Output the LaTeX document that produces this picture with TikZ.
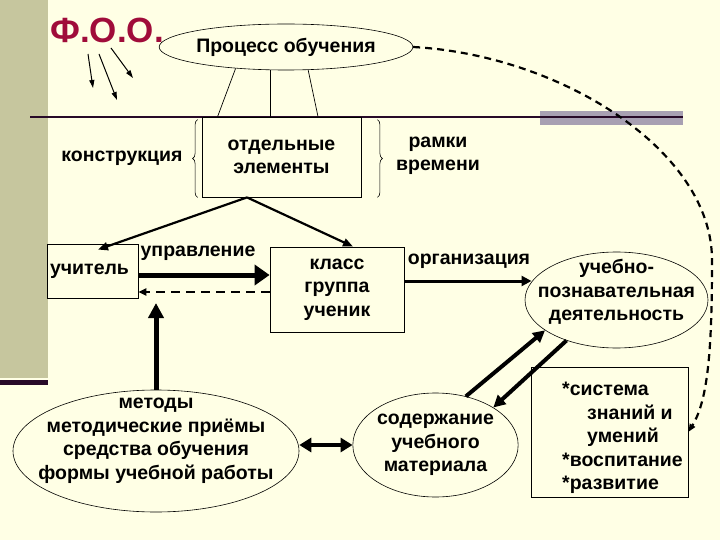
\documentclass[tikz,border=0pt]{standalone}
\usepackage{fontspec}
\setmainfont{Liberation Sans}
\usetikzlibrary{arrows.meta,shapes.geometric,calc,decorations.pathreplacing}
\definecolor{bgcream}{RGB}{255,255,229}
\definecolor{olivestrip}{RGB}{198,198,158}
\definecolor{darkbar}{RGB}{40,10,40}
\definecolor{graybar}{RGB}{168,160,178}
\definecolor{foored}{RGB}{160,12,58}
\begin{document}
\begin{tikzpicture}[x=1pt,y=-1pt,
  txt/.style={font=\fontsize{19.5}{23.5}\selectfont\bfseries, align=center, inner sep=0pt},
  box/.style={draw, line width=0.8pt, txt},
  ell/.style={draw, ellipse, line width=0.6pt, txt},
  thinline/.style={line width=0.7pt},
  smallarrow/.style={line width=1pt, -{Triangle[length=8pt,width=5pt]}},
  midarrow/.style={line width=2.2pt, -{Triangle[length=10pt,width=8pt]}},
  bigarrow/.style={line width=5pt, -{Triangle[length=15pt,width=20pt]}},
  orgarrow/.style={line width=3pt, -{Triangle[length=10pt,width=10pt]}},
  diagarrow/.style={line width=4pt, -{Triangle[length=12pt,width=12pt]}},
  dblarrow/.style={line width=4pt, {Triangle[length=12pt,width=14pt]}-{Triangle[length=12pt,width=14pt]}},
  dasharrow/.style={line width=2.5pt, dash pattern=on 9pt off 6pt, -{Triangle[length=8pt,width=7pt]}},
  curvearrow/.style={line width=2.2pt, dash pattern=on 7pt off 5pt, -{Triangle[length=8pt,width=6pt]}},
  bracestyle/.style={line width=0.6pt, decorate, decoration={brace, amplitude=5pt}}
]
% background
\fill[bgcream] (0,0) rectangle (720,540);
\useasboundingbox (0,0) rectangle (720,540);
\fill[olivestrip] (0,0) rectangle (48,378);
\fill[darkbar] (0,380) rectangle (48,385);
\fill[graybar] (540,111) rectangle (683,125);
\draw[line width=1.8pt, darkbar] (30,117) -- (683,117);

% title
\node[font=\fontsize{35}{40}\selectfont\bfseries, text=foored, inner sep=0pt, anchor=base] (foo) at (107,43) {Ф.О.О.};
\coordinate (a1) at (93,88);
\coordinate (a2) at (117,100);
\coordinate (a3) at (133,78);
\draw[smallarrow] ($(foo.base)+(-19,11)$) -- (a1);
\draw[smallarrow] ($(foo.base)+(-8,11)$) -- (a2);
\draw[smallarrow] ($(foo.base)+(4,5)$) -- (a3);

% nodes
\node[ell, minimum width=228pt, minimum height=46pt] (proc) at (286,47) {Процесс обучения};
\node[box, minimum width=159pt, minimum height=80pt] (el) at (281.5,157) {отдельные\\элементы};
\node[txt] (constr) at (122,158) {конструкция};
\node[txt] (frame) at (438,156) {рамки\\времени};
\node[box, minimum width=91pt, minimum height=54pt] (teacher) at (92.5,271) {\hspace*{-6pt}учитель};
\node[box, minimum width=134pt, minimum height=85pt] (class) at (337,289.5) {класс\\группа\\ученик};
\node[txt, anchor=base] (upr) at (198,256) {управление};
\node[txt, anchor=base] (org) at (469,264) {организация};
\node[ell, minimum width=183pt, minimum height=96pt,
      label={[txt, yshift=8pt]center:учебно-\\познавательная\\деятельность}] (uch) at (616.5,300) {};
\node[box, minimum width=157pt, minimum height=130pt] (sys) at (609.5,432) {};
\node[txt, align=left, anchor=west] (systext) at (562,438) {*система\\\hspace*{25pt}знаний и\\\hspace*{25pt}умений\\*воспитание\\*развитие};
\node[ell, minimum width=165pt, minimum height=104pt] (cont) at (435.5,445) {содержание\\учебного\\материала};
\node[ell, minimum width=286pt, minimum height=122pt,
      label={[txt, yshift=10pt]center:методы\\методические приёмы\\средства обучения\\формы учебной работы}] (methods) at (156,451) {};

% braces
\draw[bracestyle] ($(el.south west)+(-4,0)$) -- ($(el.north west)+(-4,3)$);
\draw[bracestyle] ($(el.north east)+(16,3)$) -- ($(el.south east)+(16,0)$);

% thin lines from process ellipse
\draw[thinline] (proc.203) -- ($(el.north west)+(16,0)$);
\draw[thinline] ($(proc.south)+(-16,0)$) -- ($(el.north)+(-11.5,0)$);
\draw[thinline] (proc.314) -- ($(el.north)+(36.5,0)$);

% connectors
\coordinate (apex) at ($(el.south)+(-34.5,0)$);
\draw[midarrow] (apex) -- ($(teacher.north)+(5.5,6)$);
\draw[midarrow] (apex) -- ($(class.north)+(16,0)$);
\draw[bigarrow] ($(teacher.east)+(0,4)$) -- ($(class.west)+(0,-14.5)$);
\draw[dasharrow] ($(class.west)+(0,2.5)$) -- ($(teacher.east)+(0,21)$);
\coordinate (uprtip) at (156,303);
\draw[bigarrow, -{Triangle[length=15pt,width=15pt]}] (methods.north) -- (uprtip);
\draw[orgarrow] ($(class.east)+(0,-8.5)$) -- ($(uch.center)+(-85,-19)$);
\draw[diagarrow] (cont.58) -- (uch.203);
\draw[diagarrow] (uch.219) -- (cont.33);
\draw[dblarrow] (methods.east |- cont.west) -- (cont.west);
\draw[curvearrow] (proc.east) .. controls (560,55) and (712,150) .. (712,260)
                  .. controls (712,350) and (708,400) .. (sys.east);
\end{tikzpicture}
\end{document}
